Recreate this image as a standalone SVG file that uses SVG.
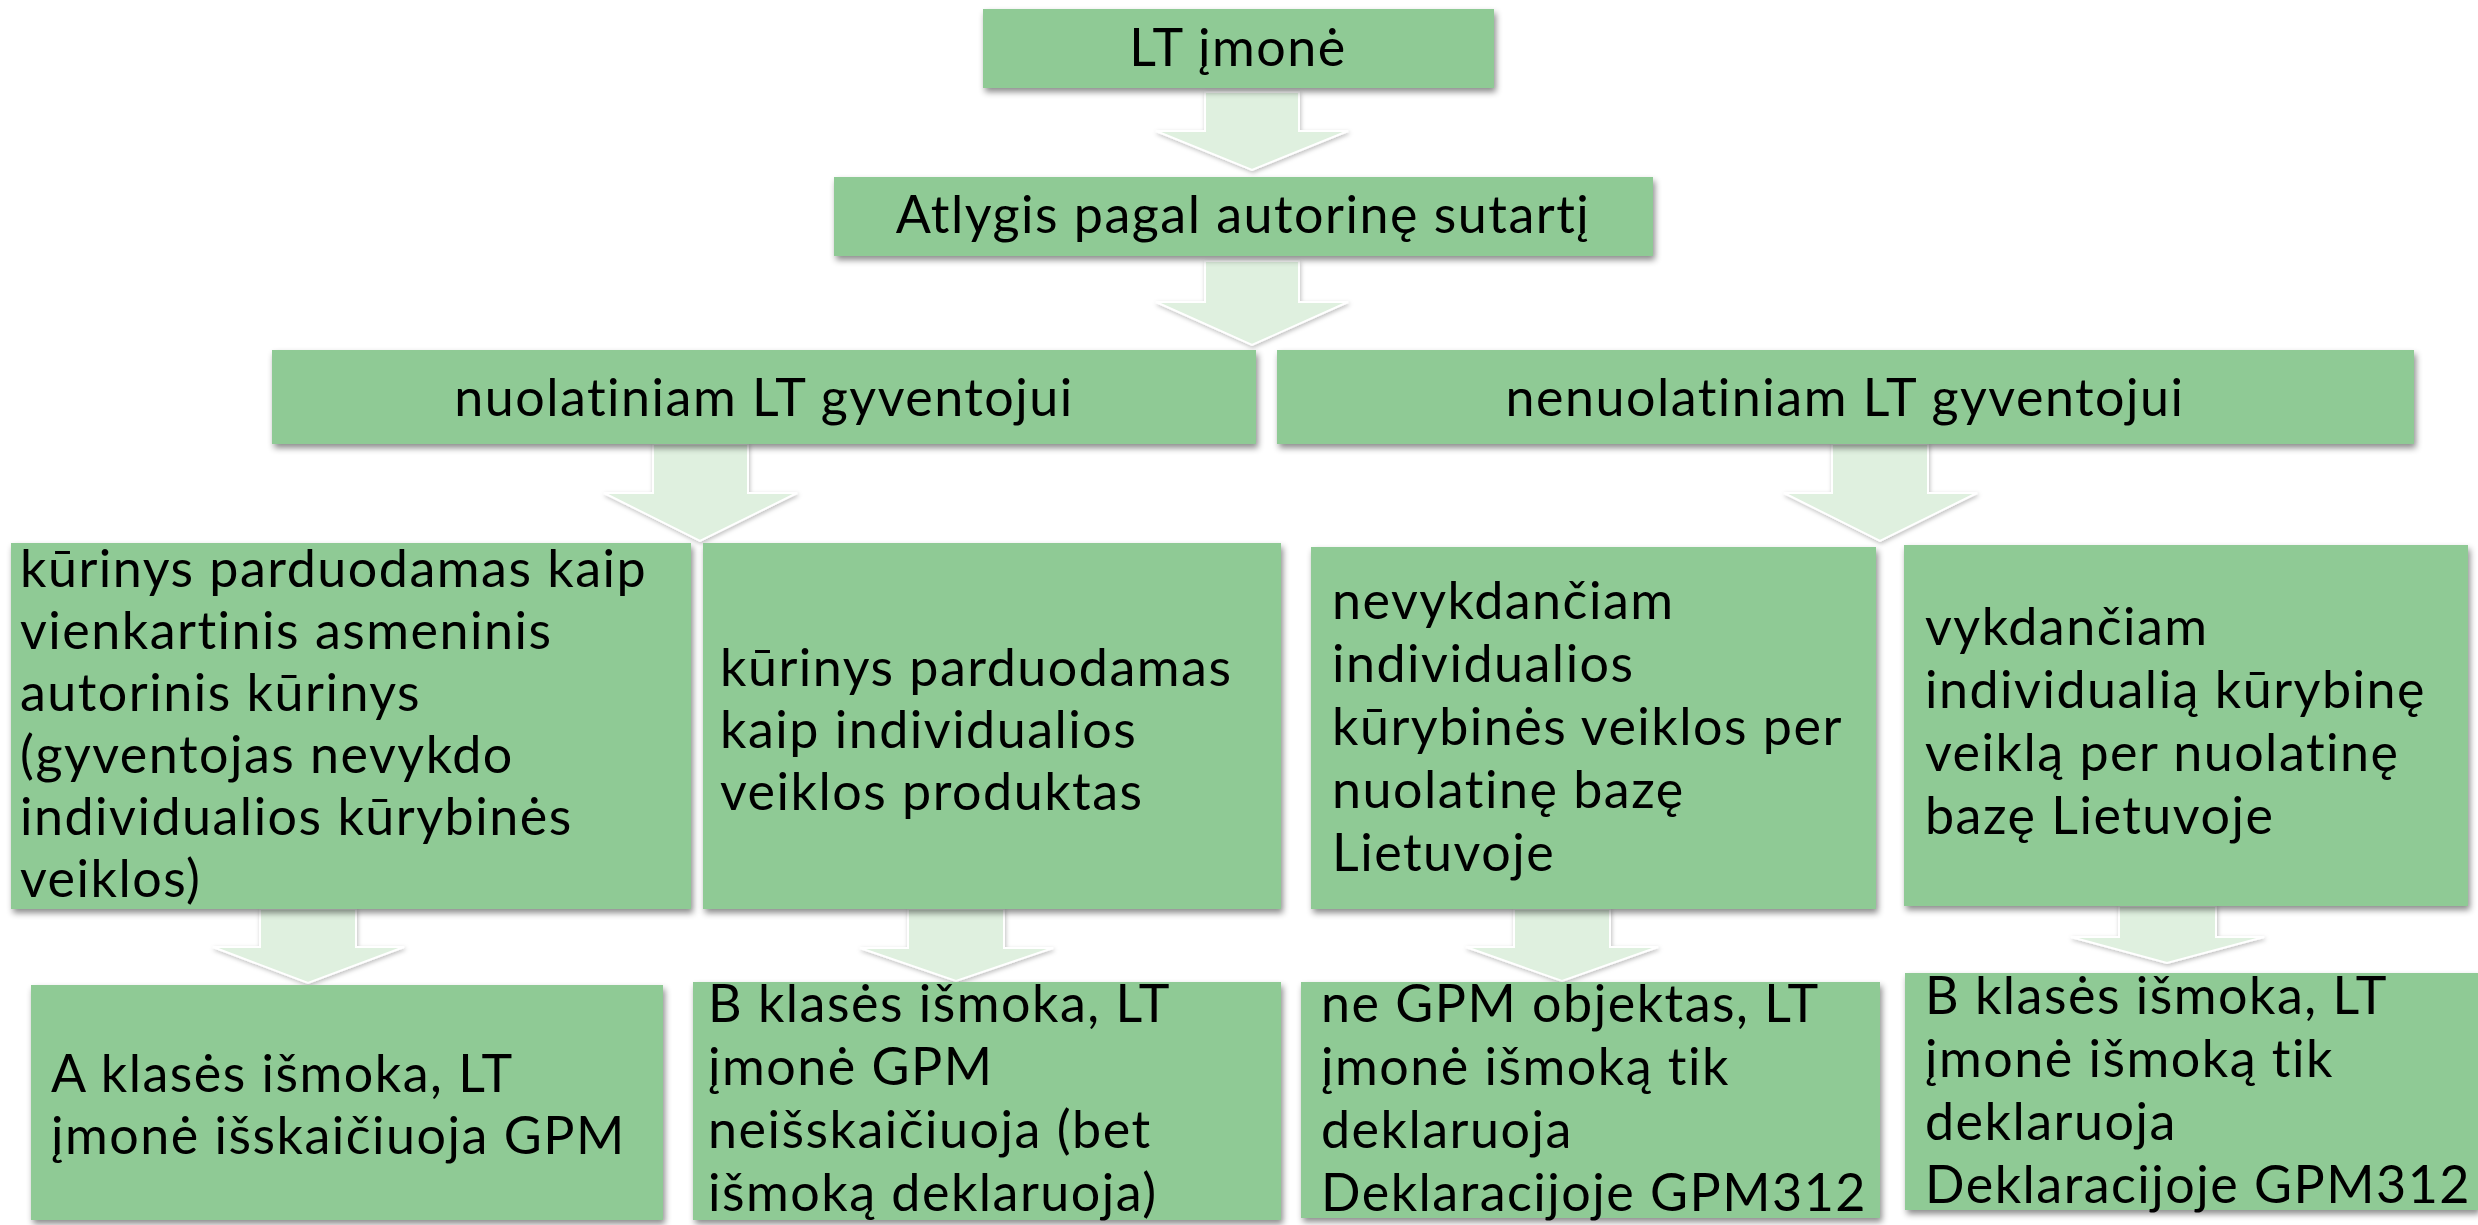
<svg xmlns="http://www.w3.org/2000/svg" width="2478" height="1225" viewBox="0 0 2478 1225">
<defs>
<filter id="sh" x="-5%" y="-5%" width="110%" height="120%">
<feDropShadow dx="2" dy="4" stdDeviation="3" flood-color="#000" flood-opacity="0.45"/>
</filter>
<filter id="ash" x="-10%" y="-10%" width="120%" height="130%">
<feDropShadow dx="1" dy="2" stdDeviation="2" flood-color="#000" flood-opacity="0.25"/>
</filter>
</defs>
<style>
.box{fill:#8FCA95;filter:url(#sh);}
.arr{fill:#DFF0DF;stroke:#ffffff;stroke-width:2;filter:url(#ash);}
text{font-family:Lato,"Open Sans","Liberation Sans",sans-serif;font-size:52px;fill:#000;letter-spacing:1.5px;font-variant-ligatures:none;}
.c{text-anchor:middle;}
</style>
<rect width="2478" height="1225" fill="#ffffff"/>
<g id="connectors">
<polygon class="arr" points="1205,92 1299,92 1299,131 1348,131 1252,170 1156,131 1205,131"/>
<polygon class="arr" points="1205,261 1299,261 1299,302 1348,302 1252,345 1156,302 1205,302"/>
<polygon class="arr" points="653,444 748,444 748,493 797,493 700,541 604,493 653,493"/>
<polygon class="arr" points="1832,444 1928,444 1928,493 1977,493 1880,541 1784,493 1832,493"/>
<polygon class="arr" points="260,909 356,909 356,947 404,947 308,983 213,947 260,947"/>
<polygon class="arr" points="908,909 1004,909 1004,948 1053,948 956,981 860,948 908,948"/>
<polygon class="arr" points="1514,909 1610,909 1610,947 1658,947 1562,981 1466,947 1514,947"/>
<polygon class="arr" points="2119,906 2216,906 2216,937 2264,937 2167,963 2071,937 2119,937"/>
</g>
<g id="n1"><rect class="box" x="983" y="9" width="511" height="79"/><text class="c" x="1238" y="66">LT įmonė</text></g>
<g id="n2"><rect class="box" x="834" y="177" width="819" height="79"/><text class="c" x="1243" y="233">Atlygis pagal autorinę sutartį</text></g>
<g id="n3"><rect class="box" x="272" y="350" width="984" height="94"/><text class="c" x="764" y="416">nuolatiniam LT gyventojui</text></g>
<g id="n4"><rect class="box" x="1277" y="350" width="1137" height="94"/><text class="c" x="1845" y="416">nenuolatiniam LT gyventojui</text></g>
<g id="n5"><rect class="box" x="11" y="543" width="680" height="366"/>
<text x="20" y="587">kūrinys parduodamas kaip</text>
<text x="20" y="649">vienkartinis asmeninis</text>
<text x="20" y="711">autorinis kūrinys</text>
<text x="20" y="773">(gyventojas nevykdo</text>
<text x="20" y="835">individualios kūrybinės</text>
<text x="20" y="897">veiklos)</text></g>
<g id="n6"><rect class="box" x="703" y="543" width="578" height="366"/>
<text x="720" y="686">kūrinys parduodamas</text>
<text x="720" y="748">kaip individualios</text>
<text x="720" y="810">veiklos produktas</text></g>
<g id="n7"><rect class="box" x="1311" y="547" width="565" height="362"/>
<text x="1332" y="619">nevykdančiam</text>
<text x="1332" y="682">individualios</text>
<text x="1332" y="745">kūrybinės veiklos per</text>
<text x="1332" y="808">nuolatinę bazę</text>
<text x="1332" y="871">Lietuvoje</text></g>
<g id="n8"><rect class="box" x="1904" y="545" width="564" height="361"/>
<text x="1925" y="645">vykdančiam</text>
<text x="1925" y="708">individualią kūrybinę</text>
<text x="1925" y="771">veiklą per nuolatinę</text>
<text x="1925" y="834">bazę Lietuvoje</text></g>
<g id="n9"><rect class="box" x="31" y="985" width="632" height="235"/>
<text x="51" y="1092">A klasės išmoka, LT</text>
<text x="51" y="1154">įmonė išskaičiuoja GPM</text></g>
<g id="n10"><rect class="box" x="693" y="982" width="588" height="238"/>
<text x="708" y="1022">B klasės išmoka, LT</text>
<text x="708" y="1085">įmonė GPM</text>
<text x="708" y="1148">neišskaičiuoja (bet</text>
<text x="708" y="1211">išmoką deklaruoja)</text></g>
<g id="n11"><rect class="box" x="1301" y="982" width="579" height="236"/>
<text x="1321" y="1022">ne GPM objektas, LT</text>
<text x="1321" y="1085">įmonė išmoką tik</text>
<text x="1321" y="1148">deklaruoja</text>
<text x="1321" y="1211">Deklaracijoje GPM312</text></g>
<g id="n12"><rect class="box" x="1905" y="973" width="573" height="237"/>
<text x="1925" y="1014">B klasės išmoka, LT</text>
<text x="1925" y="1077">įmonė išmoką tik</text>
<text x="1925" y="1140">deklaruoja</text>
<text x="1925" y="1203">Deklaracijoje GPM312</text></g>
</svg>
